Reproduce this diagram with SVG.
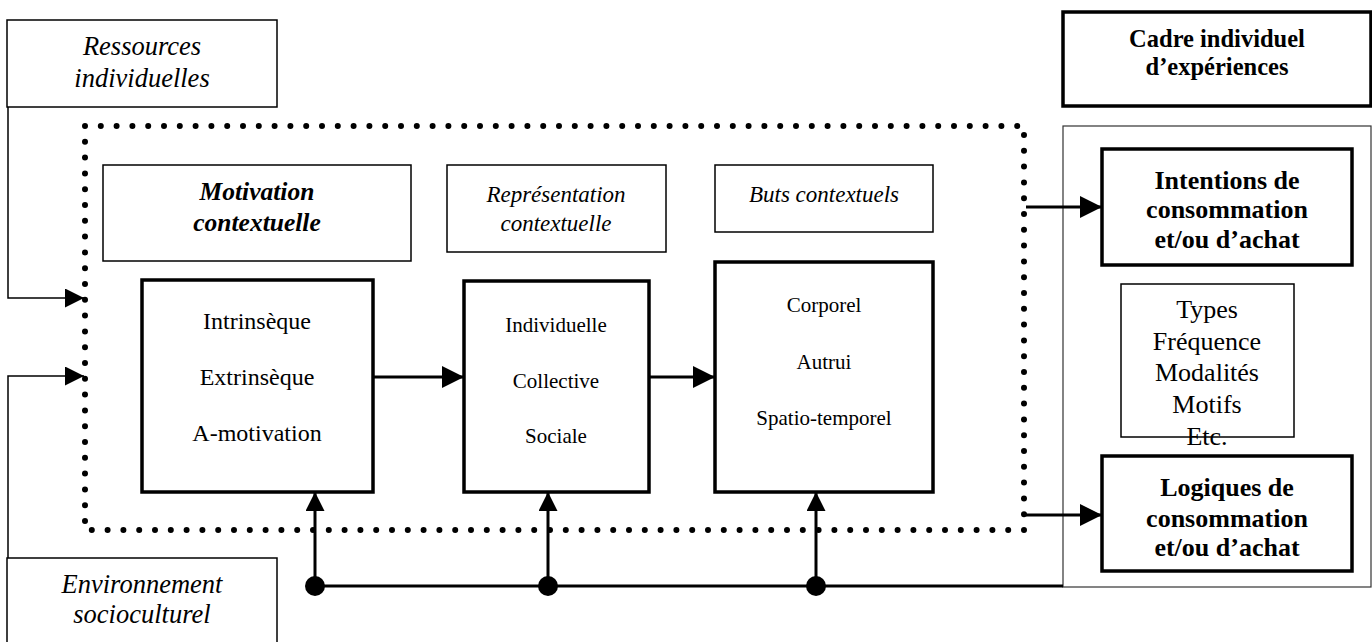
<svg xmlns="http://www.w3.org/2000/svg" width="1372" height="642" viewBox="0 0 1372 642">
<style>
text{font-family:"Liberation Serif","Times New Roman",serif;fill:#000;text-anchor:middle}
.i{font-style:italic;font-size:26.5px}
.i2{font-style:italic;font-size:23px}
.bi{font-style:italic;font-weight:bold;font-size:25.5px}
.b{font-weight:bold;font-size:26px}
.bc{font-weight:bold;font-size:24.5px}
.r{font-size:24px}
.r1{font-size:21px}
.r2{font-size:26px}
.thin{fill:#fff;stroke:#000;stroke-width:1.5}
.grey{fill:none;stroke:#333;stroke-width:1.2}
.bold{fill:#fff;stroke:#000;stroke-width:3.5}
.ln{fill:none;stroke:#000;stroke-width:1.5}
.ln3{fill:none;stroke:#000;stroke-width:3}
</style>
<defs>
<marker id="ah" viewBox="0 0 10 10" refX="10" refY="5" markerWidth="22" markerHeight="24" markerUnits="userSpaceOnUse" orient="auto"><path d="M0,0 L10,5 L0,10 z" fill="#000"/></marker>
<marker id="av" viewBox="0 0 10 10" refX="10" refY="5" markerWidth="20" markerHeight="19" markerUnits="userSpaceOnUse" orient="auto"><path d="M0,0 L10,5 L0,10 z" fill="#000"/></marker>
<marker id="at" viewBox="0 0 10 10" refX="10" refY="5" markerWidth="22" markerHeight="19" markerUnits="userSpaceOnUse" orient="auto"><path d="M0,0 L10,5 L0,10 z" fill="#000"/></marker>
</defs>
<g id="panel"><rect x="1063" y="126" width="308" height="461" class="grey"/></g>
<g id="ressources"><rect x="7" y="20" width="270" height="87" class="thin"/>
<text class="i" x="142" y="55">Ressources</text><text class="i" x="142" y="87">individuelles</text></g>
<g id="environnement"><rect x="7" y="558" width="270" height="100" class="thin"/>
<text class="i" x="142" y="593">Environnement</text><text class="i" x="142" y="623">socioculturel</text></g>
<g id="cadre"><rect x="1063" y="12" width="308" height="94" class="bold"/>
<text class="bc" x="1217" y="47">Cadre individuel</text><text class="bc" x="1217" y="75">d’expériences</text></g>
<g id="dotted"><rect x="85" y="126" width="939" height="404" fill="none" stroke="#000" stroke-width="6" stroke-dasharray="0 15.8" stroke-linecap="round"/></g>
<g id="motivation-title"><rect x="103" y="165" width="308" height="96" class="thin" stroke-width="2"/>
<text class="bi" x="257" y="200">Motivation</text><text class="bi" x="257" y="231">contextuelle</text></g>
<g id="motivation"><rect x="142" y="280" width="231" height="212" class="bold"/>
<text class="r" x="257" y="329">Intrinsèque</text><text class="r" x="257" y="385">Extrinsèque</text><text class="r" x="257" y="441">A-motivation</text></g>
<g id="representation-title"><rect x="447" y="165" width="219" height="87" class="thin"/>
<text class="i2" x="556" y="202">Représentation</text><text class="i2" x="556" y="231">contextuelle</text></g>
<g id="representation"><rect x="464" y="281" width="185" height="211" class="bold"/>
<text class="r1" x="556" y="332">Individuelle</text><text class="r1" x="556" y="388">Collective</text><text class="r1" x="556" y="443">Sociale</text></g>
<g id="buts-title"><rect x="715" y="165" width="218" height="67" class="thin"/>
<text class="i2" x="824" y="202">Buts contextuels</text></g>
<g id="buts"><rect x="715" y="262" width="218" height="230" class="bold"/>
<text class="r1" x="824" y="312">Corporel</text><text class="r1" x="824" y="369">Autrui</text><text class="r1" x="824" y="425">Spatio-temporel</text></g>
<g id="intentions"><rect x="1102" y="149" width="250" height="116" class="bold"/>
<text class="b" x="1227" y="189">Intentions de</text><text class="b" x="1227" y="218">consommation</text><text class="b" x="1227" y="248">et/ou d’achat</text></g>
<g id="types"><rect x="1121" y="284" width="173" height="153" class="thin"/>
<text class="r2" x="1207" y="318">Types</text><text class="r2" x="1207" y="350">Fréquence</text><text class="r2" x="1207" y="381">Modalités</text><text class="r2" x="1207" y="413">Motifs</text><text class="r2" x="1207" y="445">Etc.</text></g>
<g id="logiques"><rect x="1102" y="456" width="250" height="115" class="bold"/>
<text class="b" x="1227" y="496">Logiques de</text><text class="b" x="1227" y="527">consommation</text><text class="b" x="1227" y="556">et/ou d’achat</text></g>
<g id="connectors">
<path class="ln" d="M8,107 V298 H84" marker-end="url(#at)"/>
<path class="ln" d="M8,558 V376 H84" marker-end="url(#at)"/>
<path class="ln3" d="M373,377 H464" marker-end="url(#ah)"/>
<path class="ln3" d="M649,377 H715" marker-end="url(#ah)"/>
<path class="ln3" d="M1026,207 H1102" marker-end="url(#ah)"/>
<path class="ln3" d="M1026,515 H1102" marker-end="url(#ah)"/>
<path class="ln3" d="M315,586 H1063"/>
<path class="ln3" d="M315,586 V492" marker-end="url(#av)"/>
<path class="ln3" d="M548,586 V492" marker-end="url(#av)"/>
<path class="ln3" d="M816,586 V492" marker-end="url(#av)"/>
<circle cx="315" cy="586" r="10"/>
<circle cx="548" cy="586" r="10"/>
<circle cx="816" cy="586" r="10"/>
</g>
</svg>
